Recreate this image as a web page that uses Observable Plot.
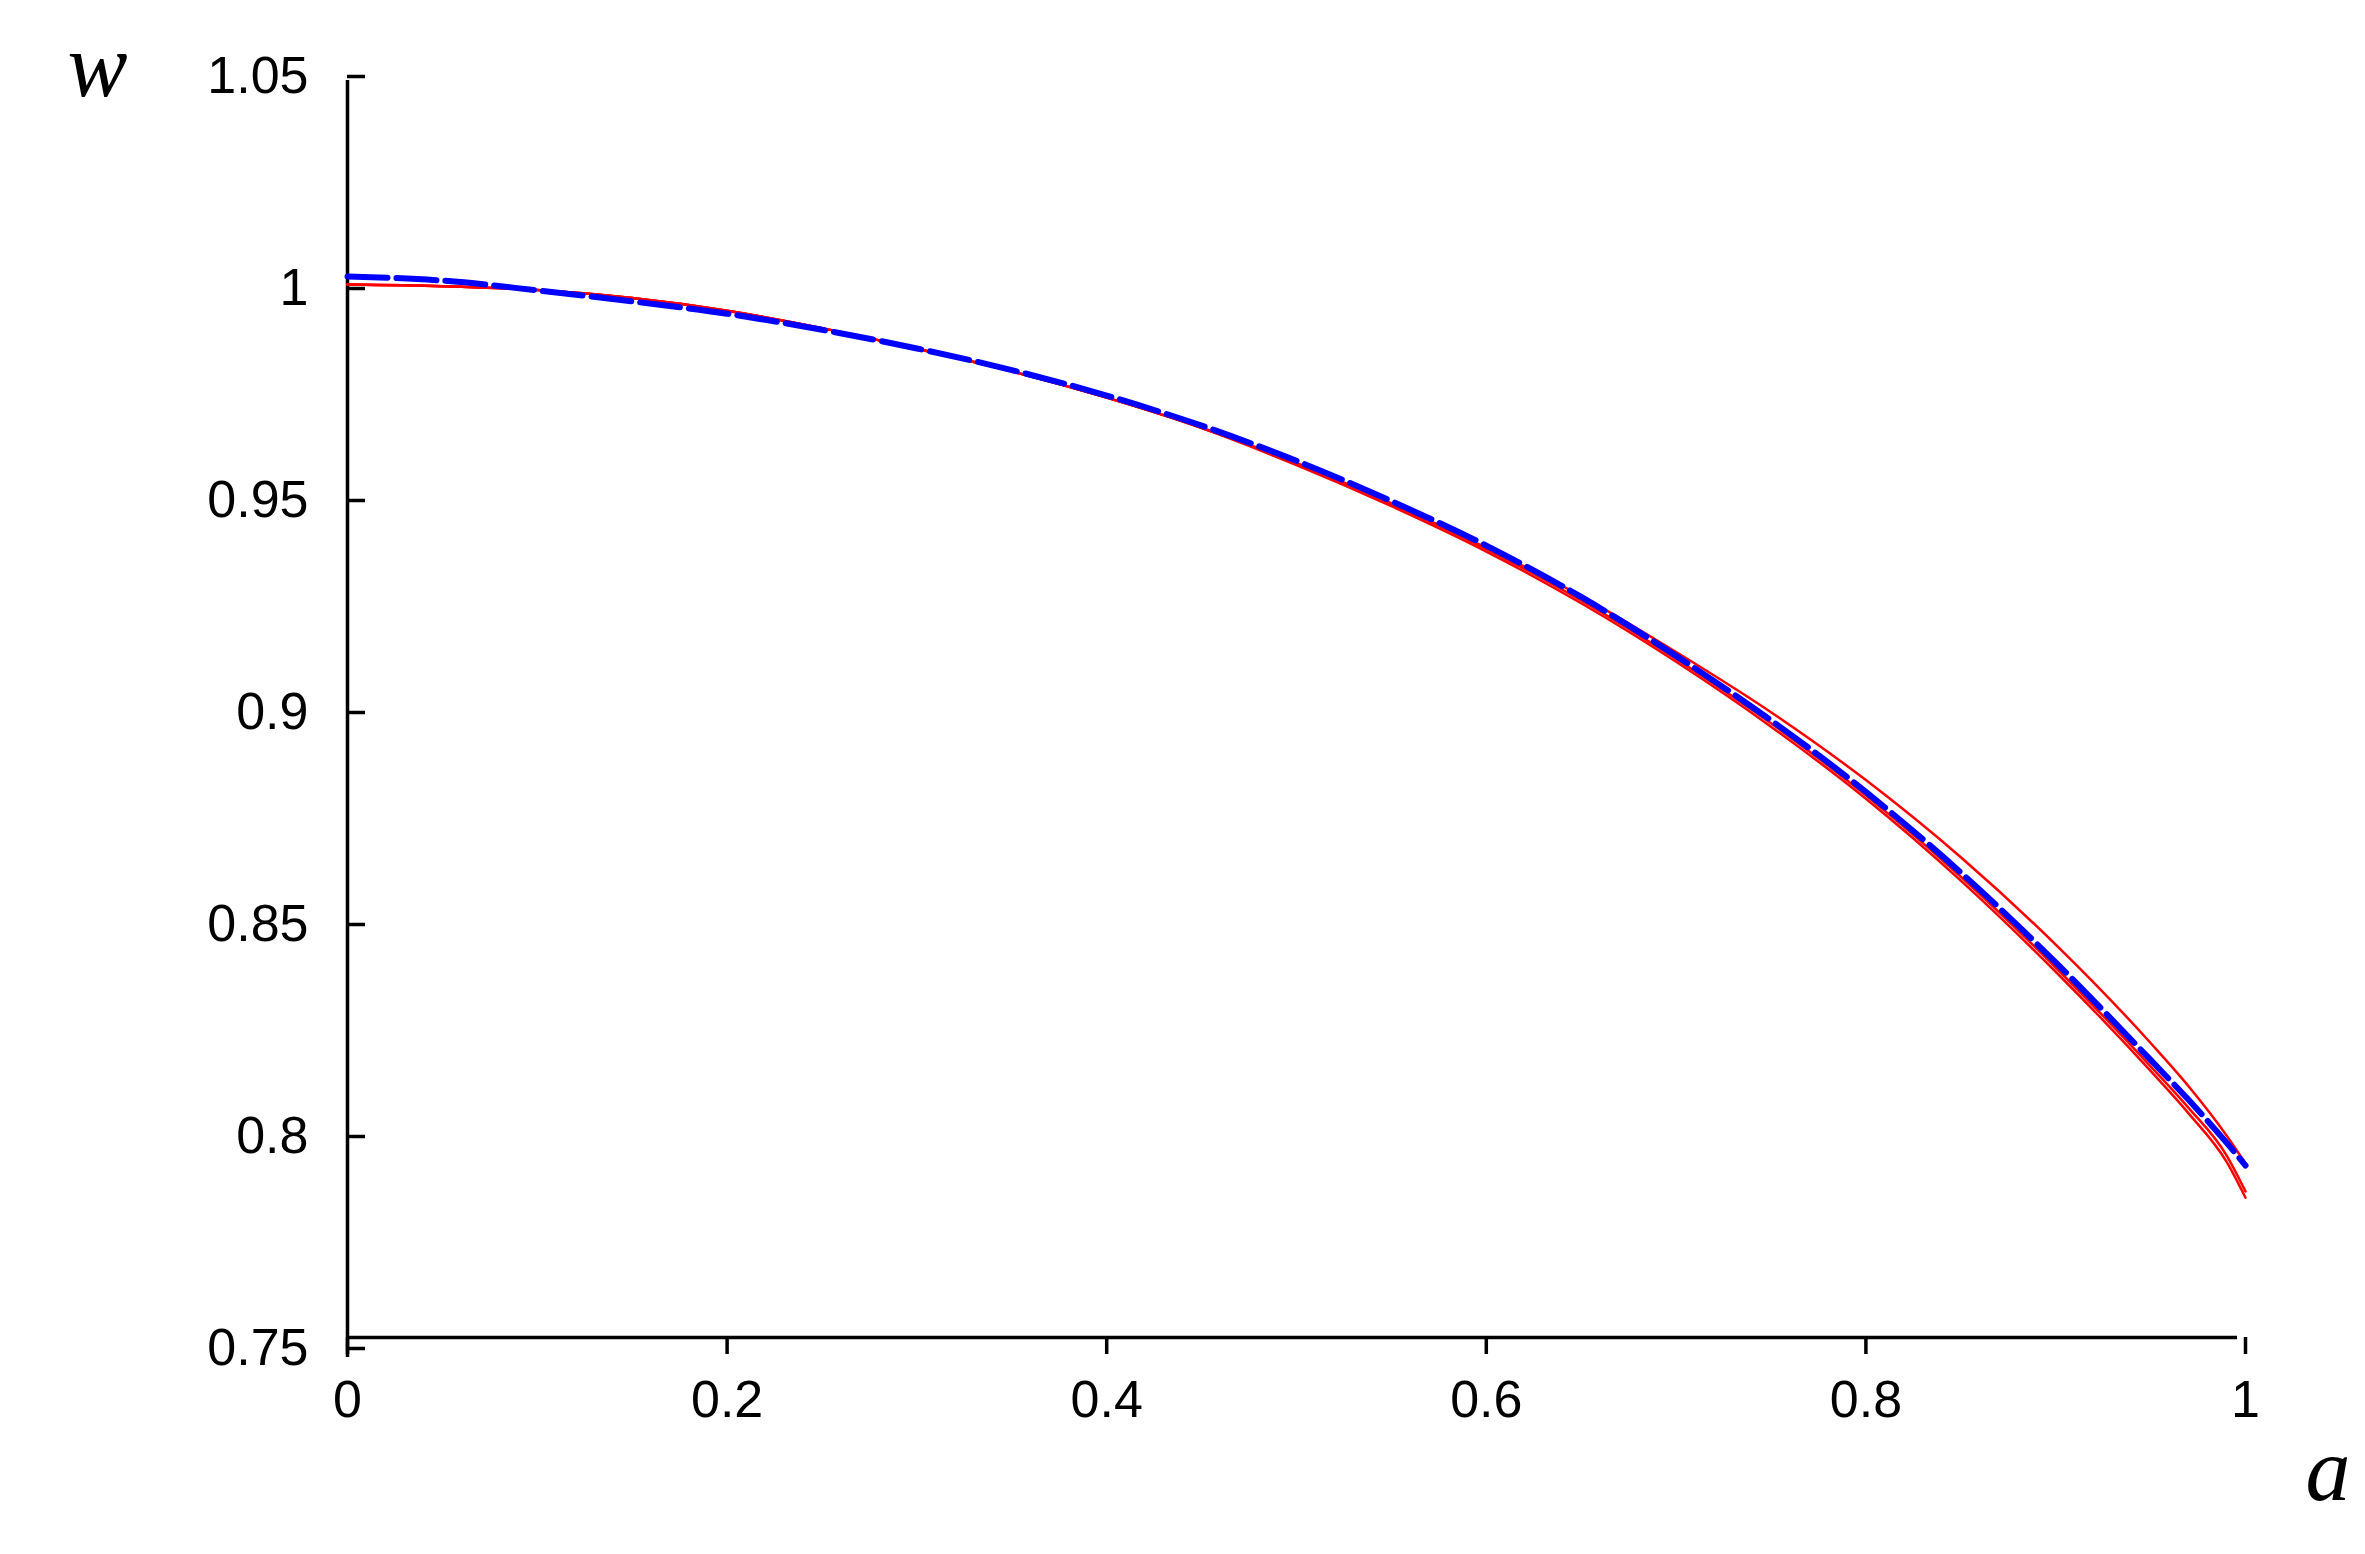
<!DOCTYPE html>
<html>
<head>
<meta charset="utf-8">
<script src="https://cdn.jsdelivr.net/npm/d3@7"></script>
<script src="https://cdn.jsdelivr.net/npm/@observablehq/plot@0.6"></script>
<style>
  html, body { margin: 0; padding: 0; background: #ffffff; }
  #chart { width: 2365px; height: 1554px; }
</style>
</head>
<body>
<div id="chart"></div>
<script>
// ---- data ----
const aValues = [0, 0.05, 0.1, 0.15, 0.2, 0.25, 0.3, 0.35, 0.4, 0.45, 0.5, 0.55, 0.6, 0.65, 0.7, 0.75, 0.8, 0.85, 0.9, 0.95, 0.97, 0.99, 1.0];

// blue thick dashed curve
const blueW = [1.0038, 1.0028, 1.0005, 0.9979, 0.9950, 0.9912, 0.9868, 0.9817, 0.9757, 0.9686, 0.9603, 0.9508, 0.9403, 0.9282, 0.9143, 0.8991, 0.8822, 0.8632, 0.8420, 0.8190, 0.8096, 0.7995, 0.7941];

// red thin curves
const redW1 = [1.0019, 1.0015, 1.0006, 0.9987, 0.9957, 0.9916, 0.9867, 0.9814, 0.9752, 0.9681, 0.9597, 0.9501, 0.9395, 0.9274, 0.9136, 0.8984, 0.8814, 0.8622, 0.8408, 0.8175, 0.8077, 0.7965, 0.7880];
const redW2 = [1.0019, 1.0015, 1.0006, 0.9987, 0.9957, 0.9916, 0.9867, 0.9814, 0.9752, 0.9680, 0.9593, 0.9496, 0.9389, 0.9267, 0.9129, 0.8976, 0.8806, 0.8613, 0.8398, 0.8164, 0.8064, 0.7950, 0.7865];
const redW3 = [1.0019, 1.0015, 1.0006, 0.9987, 0.9957, 0.9916, 0.9867, 0.9814, 0.9752, 0.9681, 0.9598, 0.9503, 0.9398, 0.9284, 0.9152, 0.9010, 0.8850, 0.8668, 0.8462, 0.8230, 0.8128, 0.8012, 0.7946];

const xTicks = [0, 0.2, 0.4, 0.6, 0.8, 1];
const xTickLabels = ["0", "0.2", "0.4", "0.6", "0.8", "1"];
const yTicks = [0.75, 0.8, 0.85, 0.9, 0.95, 1, 1.05];
const yTickLabels = ["0.75", "0.8", "0.85", "0.9", "0.95", "1", "1.05"];

const xAxisTitle = "a";
const yAxisTitle = "w";

// ---- build tables ----
const blue = aValues.map((a, i) => ({a, w: blueW[i]}));
const reds = [redW1, redW2, redW3].flatMap((arr, k) => aValues.map((a, i) => ({a, w: arr[i], s: "r" + k})));

const chart = Plot.plot({
  width: 2365,
  height: 1554,
  marginLeft: 347,
  marginRight: 120,
  marginTop: 80,
  marginBottom: 202,
  x: {domain: [0, 1], label: null},
  y: {domain: [0.75, 1.05], label: null},
  style: {
    fontFamily: "'Liberation Sans', Arial, sans-serif",
    fontSize: "52px",
    color: "#000",
    background: "#fff"
  },
  marks: [
    // axis lines
    Plot.ruleX([0], {stroke: "#000", strokeWidth: 3.5, insetBottom: -5}),
    Plot.ruleY([0.75], {stroke: "#000", strokeWidth: 3.5, dy: -15, insetRight: 8}),
    // axes
    Plot.axisX(xTicks, {
      anchor: "bottom",
      tickSize: 17,
      tickPadding: 26,
      dy: -15,
      strokeWidth: 3.5,
      fontSize: 52,
      tickFormat: d => xTickLabels[xTicks.indexOf(d)],
      label: null
    }),
    Plot.axisY(yTicks, {
      anchor: "left",
      tickSize: -18,
      tickPadding: 57,
      dy: -4,
      strokeWidth: 3.5,
      fontSize: 52,
      tickFormat: d => yTickLabels[yTicks.indexOf(d)],
      label: null
    }),
    // red curves
    Plot.line(reds, {x: "a", y: "w", z: "s", stroke: "#ff0000", strokeWidth: 2.5, curve: "monotone-x"}),
    // blue dashed curve
    Plot.line(blue, {x: "a", y: "w", stroke: "#0000ff", strokeWidth: 6, strokeDasharray: "40,9", curve: "monotone-x"}),
    // axis titles
    Plot.text([yAxisTitle], {
      frameAnchor: "top-left", text: d => d, dx: -280, dy: -13,
      textAnchor: "start", lineAnchor: "middle",
      fontFamily: "'Liberation Serif', 'Times New Roman', serif", fontStyle: "italic", fontSize: 90, fill: "#000"
    }),
    Plot.text([xAxisTitle], {
      frameAnchor: "bottom-right", text: d => d, dx: 60, dy: 119,
      textAnchor: "start", lineAnchor: "middle",
      fontFamily: "'Liberation Serif', 'Times New Roman', serif", fontStyle: "italic", fontSize: 90, fill: "#000"
    })
  ]
});

document.getElementById("chart").appendChild(chart);
</script>
</body>
</html>
